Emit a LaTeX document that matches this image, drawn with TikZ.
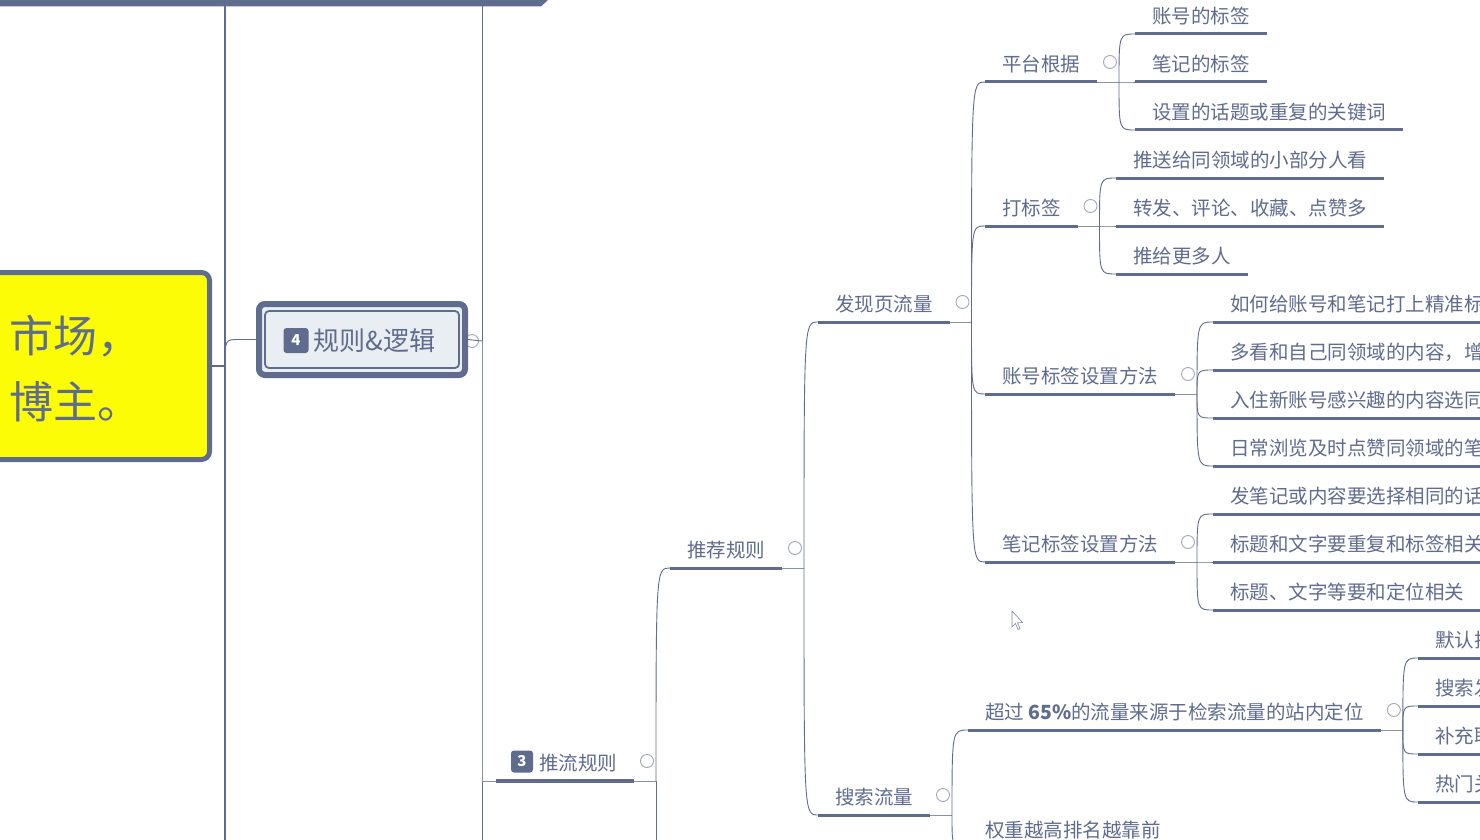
\documentclass[tikz,border=0pt]{standalone}
\usepackage{fontspec}
\newfontfamily\cjk{Noto Sans CJK SC}
\usetikzlibrary{calc}
\definecolor{mainc}{RGB}{96,108,142}
\definecolor{boxfill}{RGB}{233,238,242}
\definecolor{ylw}{RGB}{252,252,6}
\tikzset{
  conn/.style={draw=mainc, line width=0.9pt},
  topic/.style={font=\cjk\fontsize{19.5pt}{20pt}\selectfont, text=mainc, inner xsep=17pt, inner ysep=0pt, outer sep=0pt, text height=15pt, text depth=10.6pt, anchor=south west},
  uline/.style={draw=mainc, line width=3pt},
  fold/.style={circle, draw=mainc!60, line width=0.9pt, fill=white, minimum size=13pt, inner sep=0pt},
  badge/.style={fill=mainc, rounded corners=3pt, text=white, font=\cjk\bfseries\fontsize{15pt}{15pt}\selectfont, inner sep=0pt},
  bigtxt/.style={font=\cjk\fontsize{44pt}{46pt}\selectfont, text=mainc, inner sep=0pt, anchor=base west},
}
\begin{document}
\begin{tikzpicture}[x=1pt,y=-1pt]
\useasboundingbox (0,0) rectangle (1480,840);
\clip (0,0) rectangle (1480,840);
\fill[white] (0,0) rectangle (1480,840);

% central yellow topic
\node[draw=mainc, line width=5pt, fill=ylw, rounded corners=8pt, minimum width=250pt, minimum height=187pt, inner sep=0pt] (c) at (84.5,366) {};
\node[bigtxt] (c1) at (9,352) {市场，};
\node[bigtxt] (c2) at (9,418) {博主。};

\coordinate (t0) at (225,366);
\coordinate (o0a) at (225,-40);
\coordinate (o0b) at (225,880);
\draw[conn, line width=1.3pt] (c.east) -- (t0);
\draw[conn, line width=1.6pt] (t0) -- (o0a);
\draw[conn, line width=1.6pt] (t0) -- (o0b);

% rules box
\node[fold] (r-f) at (472,341) {};
\node[draw=mainc, line width=6pt, fill=boxfill, rounded corners=6pt, minimum width=206pt, minimum height=71pt, inner sep=0pt] (r) at (362,339.5) {};
\draw[mainc, line width=1.8pt, rounded corners=4pt] (265,311) rectangle (459,368);
\node[badge, minimum size=25pt] (b4) at (296,340.5) {4};
\node[font=\cjk\fontsize{26pt}{28pt}\selectfont, text=mainc, inner sep=0pt, anchor=base west] (rt) at (313.5,350) {规则\&逻辑};

\coordinate (t0r) at ($(t0 |- r.west)+(14,0)$);
\draw[conn] (t0) .. controls (t0 |- r.west) and (t0 |- r.west) .. (t0r) -- (r.west);

\coordinate (t1) at (482,341);
\coordinate (o1a) at (482,-40);
\coordinate (o1b) at (482,880);
\draw[conn] (r.east) -- (t1);
\draw[conn] (t1) -- (o1a);
\draw[conn] (t1) -- (o1b);

% topics
\node[topic] (t3) at (496,781) {\hspace*{26pt}推流规则};
\node[topic] (tj) at (670,568) {推荐规则};
\node[topic] (fx) at (818,322) {发现页流量};
\node[topic] (ss) at (818,815) {搜索流量};
\node[topic] (pt) at (985,82) {平台根据};
\node[topic] (db) at (985,226) {打标签};
\node[topic] (zh) at (985,394) {账号标签设置方法};
\node[topic] (bj) at (985,562) {笔记标签设置方法};
\node[topic] (pt1) at (1135,34) {账号的标签};
\node[topic] (pt2) at (1135,82) {笔记的标签};
\node[topic] (pt3) at (1135,130) {设置的话题或重复的关键词};
\node[topic] (db1) at (1116,178) {推送给同领域的小部分人看};
\node[topic] (db2) at (1116,226) {转发、评论、收藏、点赞多};
\node[topic] (db3) at (1116,274) {推给更多人};
\node[topic] (zh1) at (1213,322) {如何给账号和笔记打上精准标};
\node[topic] (zh2) at (1213,370) {多看和自己同领域的内容，增};
\node[topic] (zh3) at (1213,418) {入住新账号感兴趣的内容选同};
\node[topic] (zh4) at (1213,466) {日常浏览及时点赞同领域的笔};
\node[topic] (bj1) at (1213,514) {发笔记或内容要选择相同的话};
\node[topic] (bj2) at (1213,562) {标题和文字要重复和标签相关};
\node[topic] (bj3) at (1213,610) {标题、文字等要和定位相关};
\node[topic] (cg) at (968,730) {超过 {\bfseries 65\%}的流量来源于检索流量的站内定位};
\node[topic] (qz) at (968,848) {权重越高排名越靠前};
\node[topic] (cg1) at (1418,658) {默认排};
\node[topic] (cg2) at (1418,706) {搜索发};
\node[topic] (cg3) at (1418,754) {补充联};
\node[topic] (cg4) at (1418,802) {热门关};

\node[badge, minimum size=22pt] (b3) at (522,761.5) {3};

% connector to 推流规则
\draw[conn, draw=mainc!75] (t1) |- (t3.south west);

% trunks
\foreach \n in {t3,tj,fx,ss,pt,db,zh,bj,cg} {
  \coordinate (\n-t) at ($(\n.south east)+(22,0)$);
  \draw[conn, draw=mainc!75] (\n.south east) -- (\n-t);
}
\coordinate (o3) at (656,880);
\draw[conn] (t3-t) -- (o3);

\foreach \p/\c in {t3/tj, tj/fx, tj/ss, fx/pt, fx/db, fx/zh, fx/bj, pt/pt1, pt/pt2, pt/pt3, db/db1, db/db2, db/db3, zh/zh1, zh/zh2, zh/zh3, zh/zh4, bj/bj1, bj/bj2, bj/bj3, ss/cg, ss/qz, cg/cg1, cg/cg2, cg/cg3, cg/cg4} {
  \draw[conn] (\p-t) .. controls (\p-t |- \c.south west) and (\p-t |- \c.south west) .. (\c.south west);
}

% underlines
\foreach \n in {tj,fx,ss,pt,db,zh,bj,pt1,pt2,pt3,db1,db2,db3,zh1,zh2,zh3,zh4,bj1,bj2,bj3,cg,qz,cg1,cg2,cg3,cg4} {
  \draw[uline] (\n.south west) -- (\n.south east);
}
\draw[uline, line width=4pt] (t3.south west) -- (t3.south east);

% fold indicators
\foreach \n in {t3,tj,fx,ss,pt,db,zh,bj,cg} {
  \node[fold] (\n-f) at ($(\n.south east)+(13,-20)$) {};
}

% mouse cursor
\draw[fill=white, draw=mainc!80, line width=0.6pt] (1012,611) -- (1012,627) -- (1015.5,623.5) -- (1018,629.5) -- (1020,628.6) -- (1017.6,622.8) -- (1022.5,622.5) -- cycle;

% bottom edge of a box above
\fill[mainc] (-10,-10) -- (550,-10) -- (548,0) -- (541,6.5) -- (-10,6.5) -- cycle;
\end{tikzpicture}
\end{document}
